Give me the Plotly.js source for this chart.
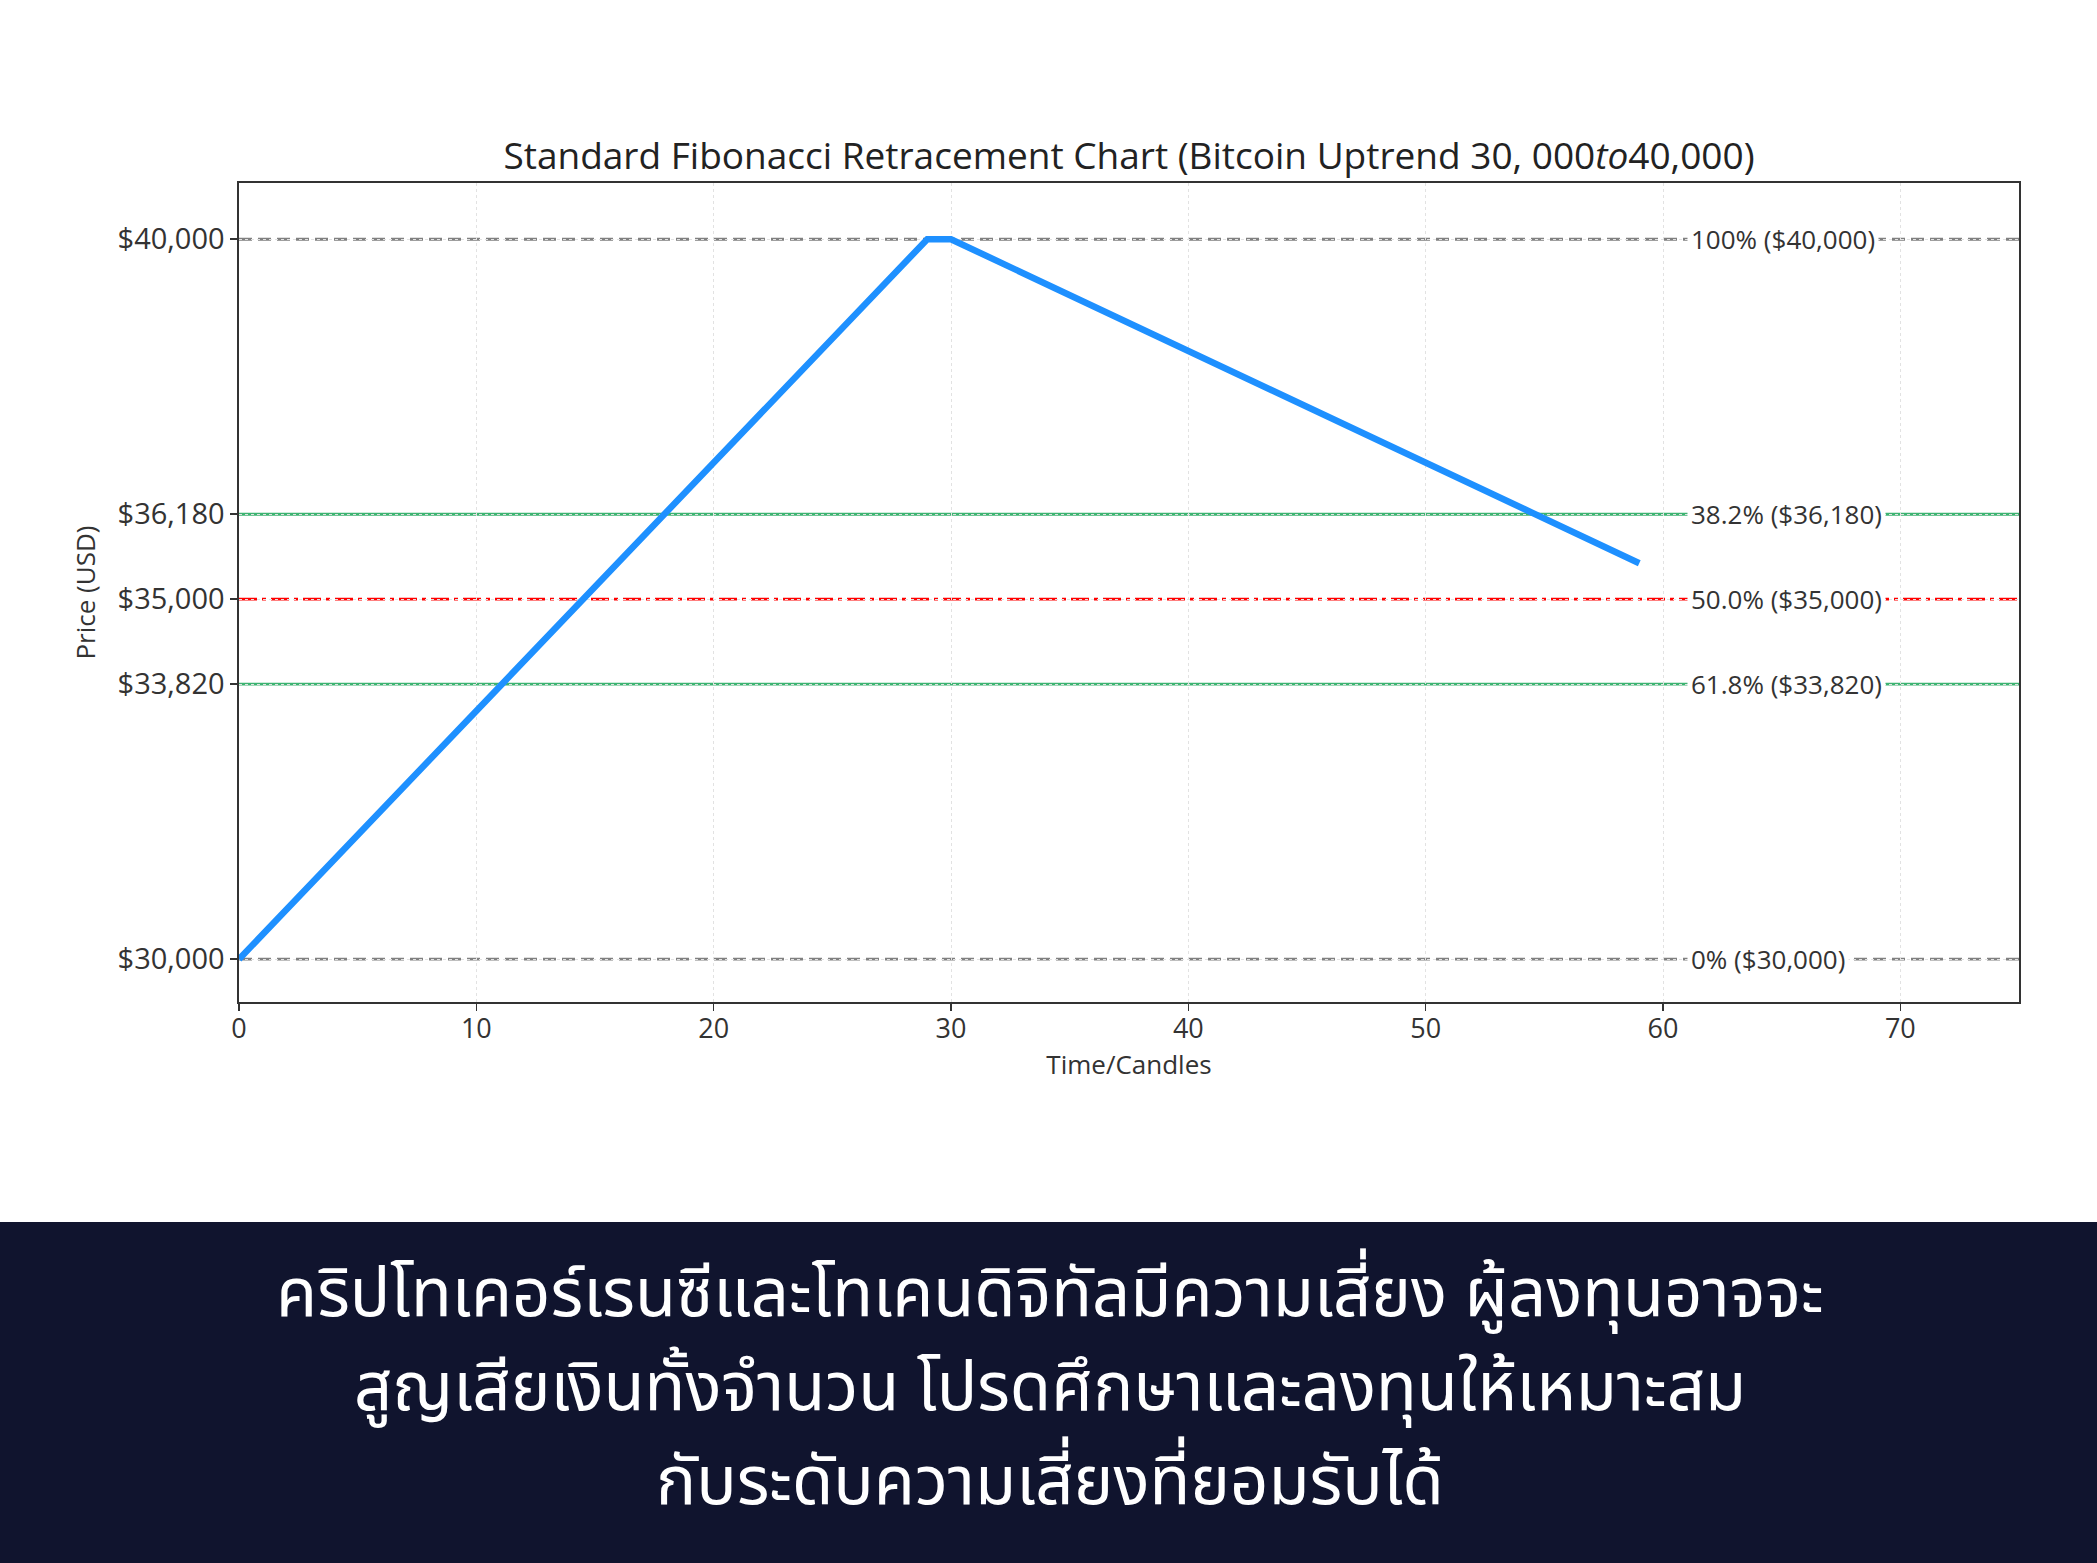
<!DOCTYPE html>
<html>
<head>
<meta charset="utf-8">
<script src="https://cdn.plot.ly/plotly-3.0.1.min.js"></script>
<style>
  html, body { margin: 0; padding: 0; background: #ffffff; }
  #chart { width: 2097px; height: 1563px; }
</style>
</head>
<body>
<div id="chart"></div>
<script>
// ---- data ----
const timeCandles = [0, 29, 30, 59];
const priceUSD = [30000, 40000, 40000, 35500];

const fibLevels = [40000, 36180, 35000, 33820, 30000];
const fibLabels = ["100% ($40,000)", "38.2% ($36,180)", "50.0% ($35,000)", "61.8% ($33,820)", "0% ($30,000)"];
const fibColors = ["#808080", "#3cb371", "#ff0000", "#3cb371", "#808080"];
const fibDashes = ["13px,6px", "solid", "18px,5px,4px,5px", "solid", "13px,6px"];
const fibLabelX = 61.0;

const yTickVals = [30000, 33820, 35000, 36180, 40000];
const yTickText = ["$30,000", "$33,820", "$35,000", "$36,180", "$40,000"];
const xTickVals = [0, 10, 20, 30, 40, 50, 60, 70];

const chartTitle = "Standard Fibonacci Retracement Chart (Bitcoin Uptrend 30, 000<i>to</i>40,000)";
const xTitle = "Time/Candles";
const yTitle = "Price (USD)";
const disclaimerLines = [
  "คริปโทเคอร์เรนซีและโทเคนดิจิทัลมีความเสี่ยง ผู้ลงทุนอาจจะ",
  "สูญเสียเงินทั้งจำนวน โปรดศึกษาและลงทุนให้เหมาะสม",
  "กับระดับความเสี่ยงที่ยอมรับได้"
];

// ---- layout geometry ----
const W = 2097, H = 1563;
const mL = 239, mR = 78, mT = 183, mB = 561;
const plotW = W - mL - mR, plotH = H - mT - mB;
const bannerTop = 1222;
const toPaperY = (py) => (H - mB - py) / plotH;
const toPaperX = (px) => (px - mL) / plotW;
const lineYs = [1295, 1389, 1483];

const FONT = "'Open Sans', 'Noto Sans', sans-serif";
const THAI = "'Noto Sans Thai', 'Noto Sans Thai UI', 'Noto Sans', 'DejaVu Sans', sans-serif";

const traces = [{
  x: timeCandles,
  y: priceUSD,
  type: "scatter",
  mode: "lines",
  line: { color: "#1e90ff", width: 6.5 },
  hoverinfo: "skip",
  showlegend: false
}];

const shapes = fibLevels.map((lv, i) => ({
  type: "line", xref: "paper", x0: 0, x1: 1, yref: "y", y0: lv, y1: lv,
  line: { color: fibColors[i], width: 2.8, dash: fibDashes[i] },
  layer: "below"
}));

shapes.push({
  type: "rect", xref: "paper", yref: "paper",
  x0: toPaperX(-2), x1: toPaperX(W + 2),
  y0: toPaperY(H + 2), y1: toPaperY(bannerTop),
  fillcolor: "#10142e", line: { width: 0 }, layer: "above"
});

const annotations = fibLevels.map((lv, i) => ({
  x: fibLabelX, y: lv, xref: "x", yref: "y",
  text: fibLabels[i], showarrow: false,
  xanchor: "left", yanchor: "middle",
  bgcolor: "#ffffff", borderpad: 3,
  font: { family: FONT, size: 26, color: "#333333" }
}));

disclaimerLines.forEach((t, i) => {
  annotations.push({
    x: toPaperX(1050), xref: "paper", xanchor: "center",
    y: toPaperY(lineYs[i]), yref: "paper", yanchor: "middle",
    text: t, showarrow: false,
    font: { family: THAI, size: 67, color: "#ffffff" }
  });
});

const layout = {
  width: W, height: H,
  margin: { l: mL, r: mR, t: mT, b: mB, pad: 0 },
  paper_bgcolor: "#ffffff",
  plot_bgcolor: "#ffffff",
  showlegend: false,
  title: {
    text: chartTitle,
    x: 0.5, xref: "paper", xanchor: "center",
    y: 1 - 156 / H, yref: "container", yanchor: "middle",
    font: { family: FONT, size: 37, color: "#222222" }
  },
  xaxis: {
    range: [0, 75],
    tickvals: xTickVals,
    ticks: "outside", ticklen: 7, tickwidth: 1.5, tickcolor: "#333333",
    ticklabelstandoff: -5,
    showline: true, mirror: true, linecolor: "#333333", linewidth: 1.6,
    showgrid: true, gridcolor: "#e2e2e2", gridwidth: 1, griddash: "dot",
    zeroline: false,
    tickfont: { family: FONT, size: 27, color: "#333333" },
    title: { text: xTitle, standoff: 10, font: { family: FONT, size: 26, color: "#333333" } }
  },
  yaxis: {
    range: [29405, 40781],
    tickvals: yTickVals,
    ticktext: yTickText,
    ticks: "outside", ticklen: 7, tickwidth: 1.5, tickcolor: "#333333",
    showline: true, mirror: true, linecolor: "#333333", linewidth: 1.6,
    showgrid: true, gridcolor: "#e2e2e2", gridwidth: 1, griddash: "dot",
    zeroline: false,
    tickfont: { family: FONT, size: 29, color: "#333333" },
    title: { text: yTitle, standoff: 14, font: { family: FONT, size: 26, color: "#333333" } }
  },
  shapes: shapes,
  annotations: annotations
};

Plotly.newPlot("chart", traces, layout, { staticPlot: true, displayModeBar: false });
</script>
</body>
</html>
